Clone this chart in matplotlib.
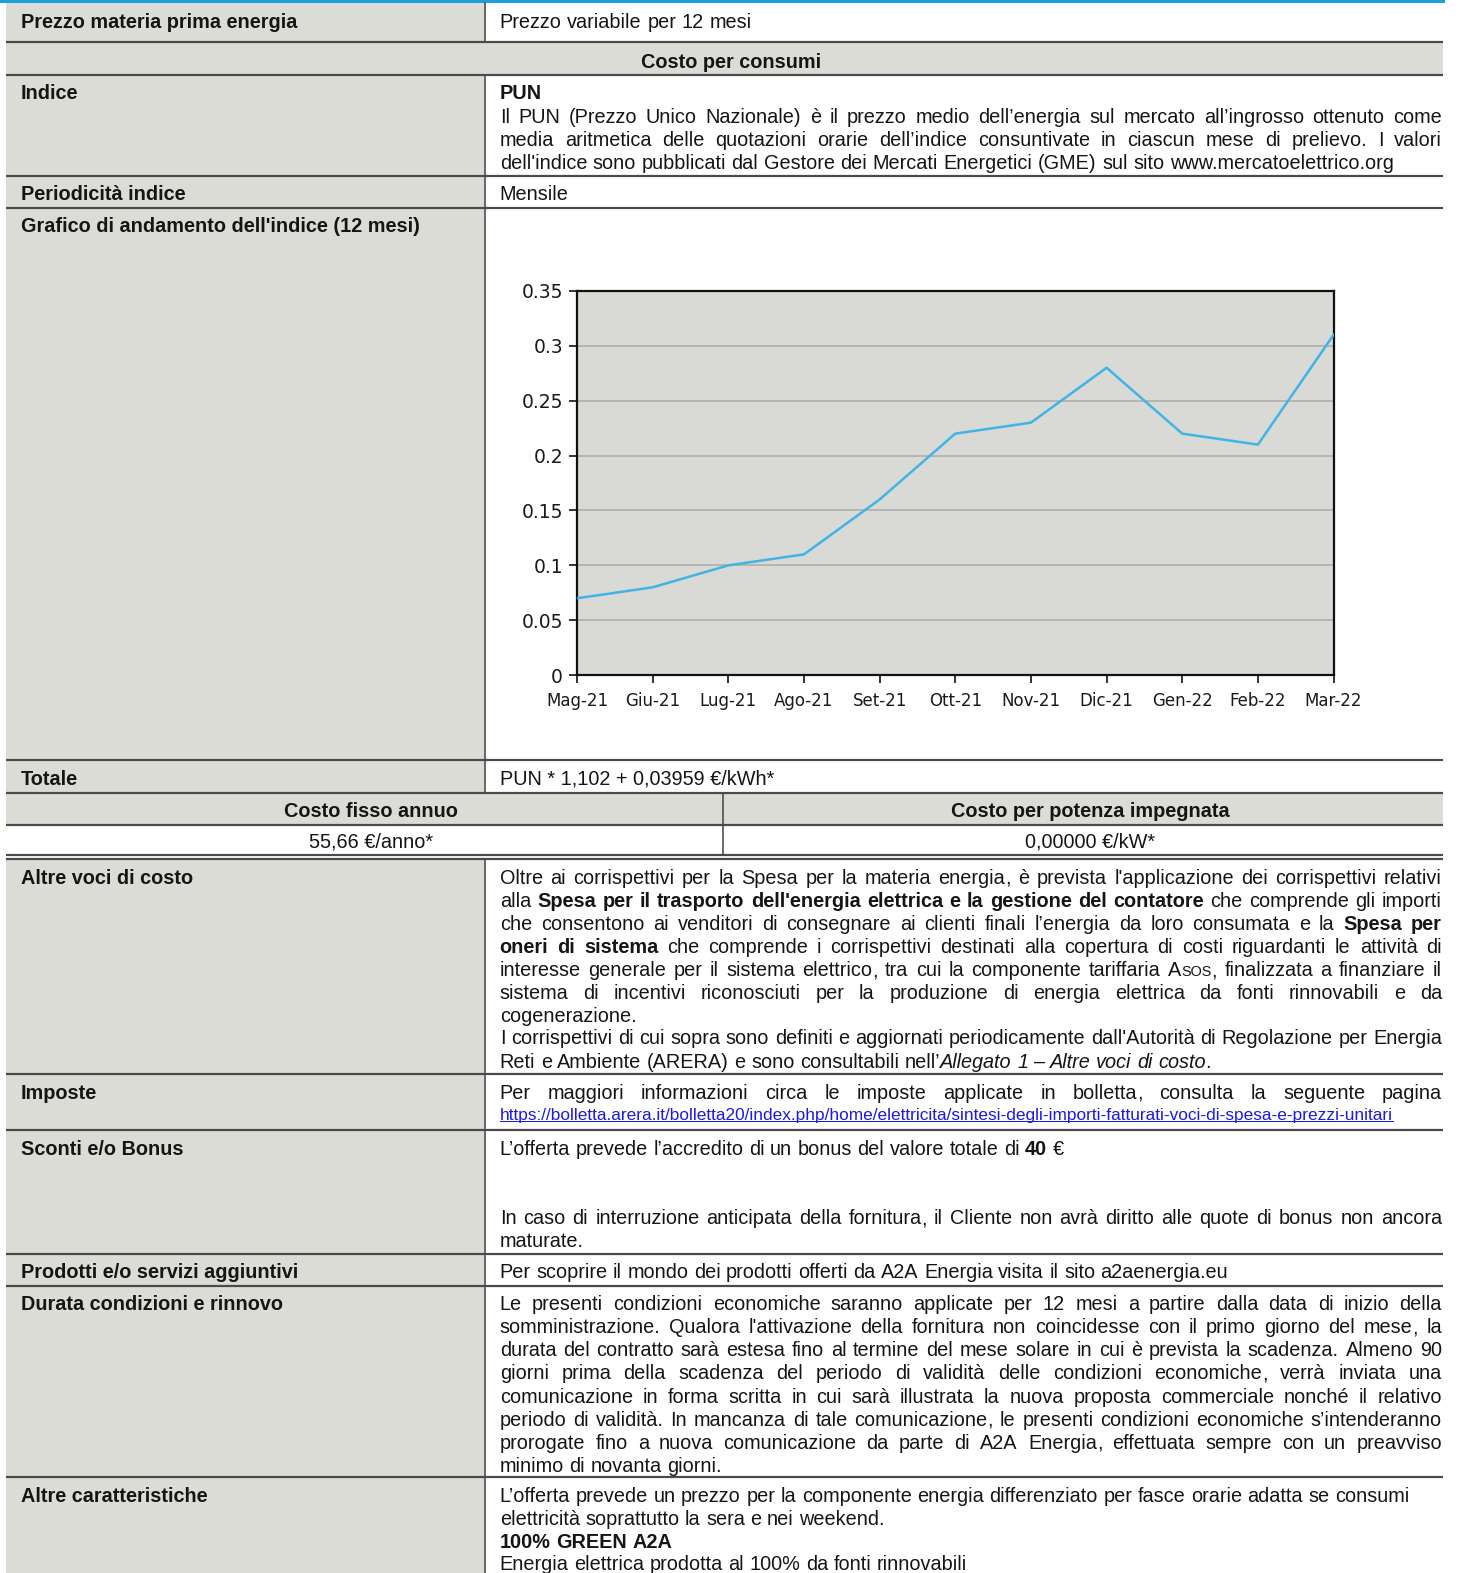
"""
plot.py - offer sheet table with the PUN 12-month index chart.
"""
import matplotlib
matplotlib.use('Agg')
import matplotlib.pyplot as plt
from matplotlib import font_manager
from matplotlib.patches import Rectangle

W, H, DPI = 1458, 1573, 100
# layout below is measured on a 1453x1568 view of the page
SX, SY = W / 1453, H / 1568

# chart data
MONTHS = ['Mag-21', 'Giu-21', 'Lug-21', 'Ago-21', 'Set-21', 'Ott-21',
          'Nov-21', 'Dic-21', 'Gen-22', 'Feb-22', 'Mar-22']
PUN = [0.07, 0.08, 0.10, 0.11, 0.16, 0.22, 0.23, 0.28, 0.22, 0.21, 0.31]
Y_TICKS = [0, 0.05, 0.1, 0.15, 0.2, 0.25, 0.3, 0.35]
Y_LABELS = ['0', '0.05', '0.1', '0.15', '0.2', '0.25', '0.3', '0.35']

# table text
LABELS = [
    (21, 'Prezzo materia prima energia'),
    (92, 'Indice'),
    (192, 'Periodicità indice'),
    (224, "Grafico di andamento dell'indice (12 mesi)"),
    (775, 'Totale'),
    (874, 'Altre voci di costo'),
    (1088, 'Imposte'),
    (1144, 'Sconti e/o Bonus'),
    (1267, 'Prodotti e/o servizi aggiuntivi'),
    (1299, 'Durata condizioni e rinnovo'),
    (1490, 'Altre caratteristiche'),
]

# (y, text, justified)
BODY = [
    (21, 'Prezzo variabile per 12 mesi', False),
    (92, '**PUN**', False),
    (115, 'Il PUN (Prezzo Unico Nazionale) è il prezzo medio dell’energia sul mercato all’ingrosso ottenuto come', True),
    (138, 'media aritmetica delle quotazioni orarie dell’indice consuntivate in ciascun mese di prelievo. I valori', True),
    (161, "dell'indice sono pubblicati dal Gestore dei Mercati Energetici (GME) sul sito www.mercatoelettrico.org", False),
    (192, 'Mensile', False),
    (874, "Oltre ai corrispettivi per la Spesa per la materia energia, è prevista l'applicazione dei corrispettivi relativi", True),
    (897, "alla **Spesa per il trasporto dell'energia elettrica e la gestione del contatore** che comprende gli importi", True),
    (920, 'che consentono ai venditori di consegnare ai clienti finali l’energia da loro consumata e la **Spesa per**', True),
    (943, '**oneri di sistema** che comprende i corrispettivi destinati alla copertura di costi riguardanti le attività di', True),
    (966, 'interesse generale per il sistema elettrico, tra cui la componente tariffaria A~SOS~, finalizzata a finanziare il', True),
    (989, 'sistema di incentivi riconosciuti per la produzione di energia elettrica da fonti rinnovabili e da', True),
    (1012, 'cogenerazione.', False),
    (1034, "I corrispettivi di cui sopra sono definiti e aggiornati periodicamente dall'Autorità di Regolazione per Energia", True),
    (1057, 'Reti e Ambiente (ARERA) e sono consultabili nell’_Allegato 1 – Altre voci di costo_.', False),
    (1088, 'Per maggiori informazioni circa le imposte applicate in bolletta, consulta la seguente pagina', True),
    (1144, 'L’offerta prevede l’accredito di un bonus del valore totale di **40** €', False),
    (1213, 'In caso di interruzione anticipata della fornitura, il Cliente non avrà diritto alle quote di bonus non ancora', True),
    (1236, 'maturate.', False),
    (1267, 'Per scoprire il mondo dei prodotti offerti da A2A Energia visita il sito a2aenergia.eu', False),
    (1299, 'Le presenti condizioni economiche saranno applicate per 12 mesi a partire dalla data di inizio della', True),
    (1322, "somministrazione. Qualora l'attivazione della fornitura non coincidesse con il primo giorno del mese, la", True),
    (1345, 'durata del contratto sarà estesa fino al termine del mese solare in cui è prevista la scadenza. Almeno 90', True),
    (1368, 'giorni prima della scadenza del periodo di validità delle condizioni economiche, verrà inviata una', True),
    (1391, 'comunicazione in forma scritta in cui sarà illustrata la nuova proposta commerciale nonché il relativo', True),
    (1414, 'periodo di validità. In mancanza di tale comunicazione, le presenti condizioni economiche s’intenderanno', True),
    (1437, 'prorogate fino a nuova comunicazione da parte di A2A Energia, effettuata sempre con un preavviso', True),
    (1460, 'minimo di novanta giorni.', False),
    (1490, 'L’offerta prevede un prezzo per la componente energia differenziato per fasce orarie adatta se consumi', False),
    (1513, 'elettricità soprattutto la sera e nei weekend.', False),
    (1536, '**100% GREEN A2A**', False),
    (1558, 'Energia elettrica prodotta al 100% da fonti rinnovabili', False),
]
TOTALE = 'PUN * 1,102 + 0,03959 €/kWh*'
LINK = 'https://bolletta.arera.it/bolletta20/index.php/home/elettricita/sintesi-degli-importi-fatturati-voci-di-spesa-e-prezzi-unitari'

_installed = {f.name for f in font_manager.fontManager.ttflist}
FONT = 'Liberation Sans Narrow' if 'Liberation Sans Narrow' in _installed else 'Liberation Sans'
GRAY = '#dcdcd7'
RULE = '#4a4a4a'
INK = '#151515'
X0, XM, X1 = 6, 483, 1438
TXT_L, TXT_R = 498, 1437


def px(n):
    return n * 72.0 / DPI


fig = plt.figure(figsize=(W / DPI, H / DPI), dpi=DPI)
fig.patch.set_facecolor('white')
ax = fig.add_axes([0, 0, 1, 1])
ax.set_xlim(0, W / SX)
ax.set_ylim(H / SY, 0)
ax.axis('off')
renderer = fig.canvas.get_renderer()
_cache = {}


def measure(s, size, weight='normal', style='normal'):
    """width of a string in layout units"""
    key = (s, round(size, 3), weight, style)
    if key not in _cache:
        t = ax.text(0, 0, s, fontsize=size, family=FONT, weight=weight, style=style)
        _cache[key] = t.get_window_extent(renderer).width / SX
        t.remove()
    return _cache[key]


# font sizes fitted to the widths seen in the reference
REG = 10 * 892 / measure("dell'indice sono pubblicati dal Gestore dei Mercati Energetici (GME) sul sito www.mercatoelettrico.org", 10)
BOLD = 10 * 398 / measure("Grafico di andamento dell'indice (12 mesi)", 10, 'bold')
LINK_SIZE = 10 * 891 / measure(LINK, 10)


def base(y, size):
    # y is the middle of the capitals; move down to the baseline
    return y + 0.358 * size * DPI / 72 / SY


def txt(x, y, s, size, **kw):
    kw.setdefault('color', INK)
    ax.text(x, base(y, size), s, fontsize=size, family=FONT,
            va='baseline', **kw)


def parse(line):
    pieces, buf = [], ''
    flags = {'*': False, '_': False, '~': False}
    i = 0
    while i < len(line):
        if line.startswith('**', i) or line[i] in '_~':
            mark = '*' if line.startswith('**', i) else line[i]
            if buf:
                pieces.append((buf, dict(flags)))
                buf = ''
            flags[mark] = not flags[mark]
            i += 2 if mark == '*' else 1
        else:
            buf += line[i]
            i += 1
    if buf:
        pieces.append((buf, dict(flags)))
    words = [[]]
    for piece, fl in pieces:
        wt = 'bold' if fl['*'] else 'normal'
        st = 'italic' if fl['_'] else 'normal'
        sz = (BOLD if fl['*'] else REG) * (0.72 if fl['~'] else 1.0)
        parts = piece.split(' ')
        for k, p in enumerate(parts):
            if k > 0:
                words.append([])
            if not p:
                continue
            # a trailing comma is drawn on its own (keeps the word on its baseline)
            if p.endswith(',') and len(p) > 1:
                words[-1].append((p[:-1], sz, wt, st))
                words[-1].append((',', sz, wt, st))
            else:
                words[-1].append((p, sz, wt, st))
    return [w for w in words if w]


def draw_line(y, line, justify):
    words = parse(line)
    widths = [sum(measure(t, sz, wt, st) for t, sz, wt, st in word) for word in words]
    if justify and len(words) > 1:
        gap = (TXT_R - TXT_L - sum(widths)) / (len(words) - 1)
    else:
        gap = measure('x x', REG) - measure('xx', REG)
    x = TXT_L
    yb = base(y, REG)
    for word, ww in zip(words, widths):
        xx = x
        for t, sz, wt, st in word:
            ax.text(xx, yb, t, fontsize=sz, family=FONT, weight=wt, style=st,
                    color=INK, va='baseline', ha='left')
            xx += measure(t, sz, wt, st)
        x += ww + gap


# backgrounds
ax.add_patch(Rectangle((X0, 3), XM - X0, H - 3, color=GRAY, lw=0))
ax.add_patch(Rectangle((X0, 42), X1 - X0, 33, color=GRAY, lw=0))
ax.add_patch(Rectangle((X0, 790), X1 - X0, 32, color=GRAY, lw=0))
ax.add_patch(Rectangle((X0, 822), X1 - X0, 34, color='white', lw=0))

# top blue rule
ax.add_patch(Rectangle((0, 0), 1440, 3, color='#1d9fdc', lw=0))

# horizontal rules
for y in [42, 75, 175, 207, 758, 790, 822, 852, 856, 1071, 1126, 1250, 1282, 1472]:
    ax.plot([X0, X1], [y, y], color=RULE, lw=px(2.2), solid_capstyle='butt')

# vertical rules
for ya, yb in [(3, 42), (75, 790), (856, H)]:
    ax.plot([XM, XM], [ya, yb], color=RULE, lw=px(1.6))
ax.plot([721, 721], [790, 852], color=RULE, lw=px(1.6))

# left labels
for y, s in LABELS:
    txt(21, y, s, BOLD, weight='bold', ha='left')

# centred headers and values
txt(729, 61, 'Costo per consumi', BOLD, weight='bold', ha='center')
txt(370, 807, 'Costo fisso annuo', BOLD, weight='bold', ha='center')
txt(1087, 807, 'Costo per potenza impegnata', BOLD, weight='bold', ha='center')
txt(370, 838, '55,66 €/anno*', REG, ha='center')
txt(1086, 838, '0,00000 €/kW*', REG, ha='center')

# right column text
for y, s, j in BODY:
    draw_line(y, s, j)
txt(TXT_L, 775, TOTALE, REG, ha='left')

# link
txt(TXT_L, 1110, LINK, LINK_SIZE, color='#1a1ae6', ha='left')
ax.plot([TXT_L, TXT_L + measure(LINK, LINK_SIZE)], [1117.5, 1117.5],
        color='#1a1ae6', lw=px(1))

# chart
cx0, cx1, cy0, cy1 = 575, 1329, 290, 673
cax = fig.add_axes([cx0 * SX / W, 1 - cy1 * SY / H,
                    (cx1 - cx0) * SX / W, (cy1 - cy0) * SY / H])
cax.set_facecolor('#d9d9d5')
cax.plot(range(len(MONTHS)), PUN, color='#41b4e6', lw=1.8, zorder=3)
cax.set_xlim(0, len(MONTHS) - 1)
cax.set_ylim(0, 0.35)
cax.set_yticks(Y_TICKS)
cax.set_yticklabels(Y_LABELS)
cax.set_xticks(range(len(MONTHS)))
cax.set_xticklabels(MONTHS)
cax.grid(axis='y', color='#b5b5b2', lw=1.4)
cax.set_axisbelow(True)
for sp in cax.spines.values():
    sp.set_color('#111111')
    sp.set_linewidth(1.6)
cax.tick_params(direction='out', length=5.8, width=1.2, color='#111111',
                labelsize=12, labelcolor='#1a1a1a')
cax.tick_params(axis='y', pad=4.3, labelsize=13.5)
cax.tick_params(axis='x', pad=6)
for lab in cax.get_xticklabels() + cax.get_yticklabels():
    lab.set_family('DejaVu Sans')

fig.savefig('out.png', dpi=DPI, facecolor='white')
